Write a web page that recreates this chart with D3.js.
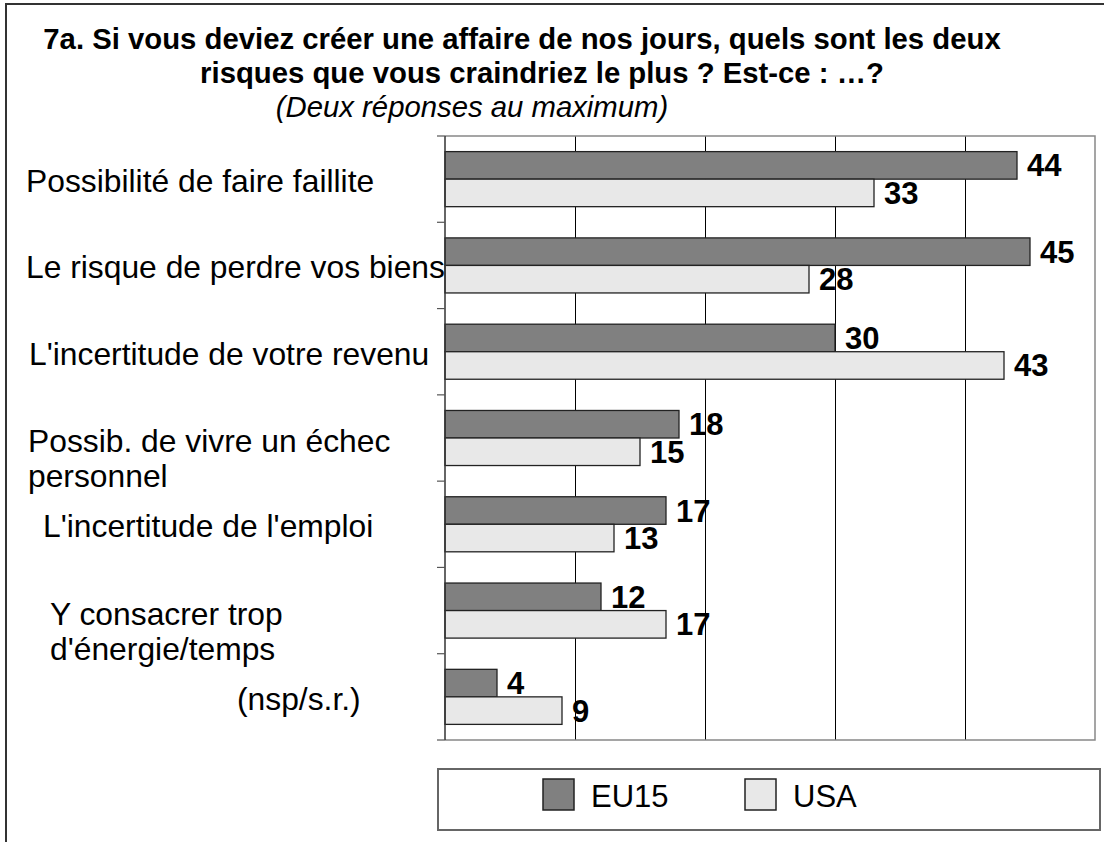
<!DOCTYPE html>
<html>
<head>
<meta charset="utf-8">
<script src="https://cdn.jsdelivr.net/npm/d3@7"></script>
<style>
  html, body { margin: 0; padding: 0; background: #fff; }
  svg { display: block; font-family: Arial, "Liberation Sans", sans-serif; }
</style>
</head>
<body>
<svg id="chart" width="1114" height="842"></svg>
<script>
// ---- data ----
const titleLines = [
  "7a. Si vous deviez créer une affaire de nos jours, quels sont les deux",
  "risques que vous craindriez le plus ? Est-ce : …?"
];
const subtitle = "(Deux réponses au maximum)";
const categories = [
  ["Possibilité de faire faillite"],
  ["Le risque de perdre vos biens"],
  ["L'incertitude de votre revenu"],
  ["Possib. de vivre un échec", "personnel"],
  ["L'incertitude de l'emploi"],
  ["Y consacrer trop", "d'énergie/temps"],
  ["(nsp/s.r.)"]
];
const seriesNames = ["EU15", "USA"];
const eu15 = [44, 45, 30, 18, 17, 12, 4];
const usa = [33, 28, 43, 15, 13, 17, 9];
const xTicks = [0, 10, 20, 30, 40, 50];

// ---- layout / style ----
const colors = { EU15: "#808080", USA: "#e8e8e8" };
const plot = { left: 445, right: 1095, top: 136, bottom: 740 };
const labelIndent = [26, 26, 29, 28, 43, 50, 237];

const svg = d3.select("#chart");

// outer frame (left and top edges)
svg.append("path")
  .attr("d", "M6,842 V4 H1104")
  .attr("fill", "none").attr("stroke", "#333").attr("stroke-width", 2);

// title
const titleX = [522, 542];
titleLines.forEach((t, i) => {
  svg.append("text")
    .attr("x", titleX[i]).attr("y", 49 + i * 34)
    .attr("text-anchor", "middle")
    .attr("font-weight", "bold").attr("font-size", 29.3)
    .text(t);
});
svg.append("text")
  .attr("x", 472).attr("y", 117)
  .attr("text-anchor", "middle")
  .attr("font-style", "italic").attr("font-size", 29.3)
  .text(subtitle);

// scales
const x = d3.scaleLinear().domain([0, 50]).range([plot.left, plot.right]);
const catKeys = categories.map((c, i) => i);
const y = d3.scaleBand().domain(catKeys).range([plot.top, plot.bottom]);
const ySub = d3.scaleBand().domain(seriesNames)
  .range([y.bandwidth() * 0.181, y.bandwidth() * 0.819]);

// grid lines
const g = svg.append("g");
g.append("g")
  .attr("transform", `translate(0,${plot.bottom})`)
  .call(d3.axisBottom(x).tickValues(xTicks.slice(1, -1)).tickSize(plot.bottom - plot.top).tickFormat(""))
  .call(a => a.select(".domain").remove())
  .call(a => a.selectAll("line").attr("stroke", "#000").attr("stroke-width", 1)
    .attr("y2", -(plot.bottom - plot.top)));

// plot border (top, right, bottom) gray
svg.append("path")
  .attr("d", `M${plot.left},${plot.top} H${plot.right} V${plot.bottom} H${plot.left}`)
  .attr("fill", "none").attr("stroke", "#888").attr("stroke-width", 1.5);

// bars
const rows = [];
catKeys.forEach(i => {
  rows.push({ cat: i, s: "EU15", v: eu15[i] });
  rows.push({ cat: i, s: "USA", v: usa[i] });
});
svg.append("g").selectAll("rect").data(rows).join("rect")
  .attr("x", x(0))
  .attr("y", d => y(d.cat) + ySub(d.s))
  .attr("width", d => x(d.v) - x(0))
  .attr("height", ySub.bandwidth())
  .attr("fill", d => colors[d.s])
  .attr("stroke", "#222").attr("stroke-width", 1.3);

// value labels
svg.append("g").selectAll("text").data(rows).join("text")
  .attr("x", d => x(d.v) + 10)
  .attr("y", d => y(d.cat) + ySub(d.s) + ySub.bandwidth() / 2 + 11)
  .attr("font-weight", "bold").attr("font-size", 31)
  .text(d => d.v);

// left axis with ticks at band edges
const tickYs = catKeys.map(i => y(i)).concat([plot.bottom]);
svg.append("line")
  .attr("x1", plot.left).attr("x2", plot.left)
  .attr("y1", plot.top).attr("y2", plot.bottom)
  .attr("stroke", "#333").attr("stroke-width", 1.5);
svg.append("g").selectAll("line").data(tickYs).join("line")
  .attr("x1", plot.left - 8).attr("x2", plot.left)
  .attr("y1", d => d).attr("y2", d => d)
  .attr("stroke", "#555").attr("stroke-width", 1.2);

// category labels
categories.forEach((lines, i) => {
  const cy = y(i) + y.bandwidth() / 2;
  const t = svg.append("text")
    .attr("font-size", 31.8).attr("fill", "#000");
  lines.forEach((ln, j) => {
    t.append("tspan")
      .attr("x", labelIndent[i])
      .attr("y", cy + (lines.length > 1 ? 14 : 13) + j * 35)
      .text(ln);
  });
});

// legend
const leg = svg.append("g");
leg.append("rect")
  .attr("x", 438).attr("y", 769).attr("width", 662).attr("height", 61)
  .attr("fill", "#fff").attr("stroke", "#666").attr("stroke-width", 2);
const legX = [543, 745];
seriesNames.forEach((s, i) => {
  leg.append("rect")
    .attr("x", legX[i]).attr("y", 779).attr("width", 31).attr("height", 31)
    .attr("fill", colors[s]).attr("stroke", "#222").attr("stroke-width", 1.5);
  leg.append("text")
    .attr("x", legX[i] + 48).attr("y", 807)
    .attr("font-size", 31)
    .text(s);
});
</script>
</body>
</html>
